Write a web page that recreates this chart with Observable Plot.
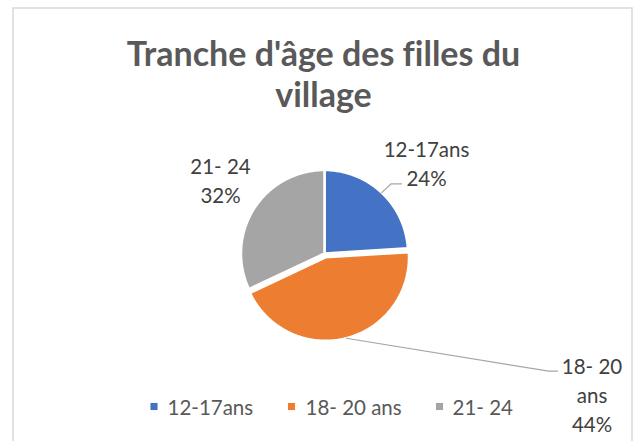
<!DOCTYPE html>
<html>
<head>
<meta charset="utf-8">
<script src="https://cdn.jsdelivr.net/npm/d3@7"></script>
<script src="https://cdn.jsdelivr.net/npm/@observablehq/plot@0.6"></script>
<style>
  html, body { margin: 0; padding: 0; background: #fff; }
  #chart svg { display: block; }
  #chart svg text { font-variant-ligatures: none; font-feature-settings: "liga" 0; }
</style>
</head>
<body>
<div id="chart"></div>
<script>
// ---- Data ----
const categories = ["12-17ans", "18- 20 ans", "21- 24"];
const percentages = [24, 44, 32];
const titleText = "Tranche d'âge des filles du\nvillage";

// ---- Styles / layout (not data) ----
const sliceColors = ["#4472C4", "#ED7D31", "#A5A5A5"];
const W = 641, H = 441;
const cx = 324, cy = 253, R = 83.5;
const explode = [0, 4, 0];
const labelFont = "Lato, 'Open Sans', sans-serif";
// label anchor (center x, last-line baseline) and leader elbow/end per slice
const labelLayout = [
  {x: 426, y: 185, wrap: false, leader: [[390.7, 183.3], [401, 183.3]]},
  {x: 591.5, y: 431.5, wrap: true, leader: [[548.3, 370.7], [557, 370.7]]},
  {x: 220, y: 202, wrap: false, leader: null}
];
const legendLayout = [
  {sx: 153.5, tx: 167},
  {sx: 291, tx: 305},
  {sx: 439, tx: 452}
];
const legendY = 406;

// ---- Geometry from data ----
const arcs = d3.pie().sort(null).value(d => d)(percentages);
const slicePts = [];
const leaderPts = [];
const labels = [];
arcs.forEach((a, i) => {
  const cat = categories[i];
  const mid = (a.startAngle + a.endAngle) / 2;
  const ox = explode[i] * Math.sin(mid), oy = -explode[i] * Math.cos(mid);
  const px = cx + ox, py = cy + oy;
  slicePts.push({cat, x: px, y: py});
  const n = Math.max(8, Math.ceil((a.endAngle - a.startAngle) * 60));
  for (let k = 0; k <= n; k++) {
    const t = a.startAngle + (a.endAngle - a.startAngle) * k / n;
    slicePts.push({cat, x: px + R * Math.sin(t), y: py - R * Math.cos(t)});
  }
  slicePts.push({cat, x: px, y: py});
  const L = labelLayout[i];
  if (L.leader) {
    leaderPts.push({cat, x: px + R * Math.sin(mid), y: py - R * Math.cos(mid)});
    L.leader.forEach(([x, y]) => leaderPts.push({cat, x, y}));
  }
  const name = L.wrap ? cat.replace(/ (?=[^ ]*$)/, "\n") : cat;
  labels.push({cat, x: L.x, y: L.y, text: name + "\n" + percentages[i] + "%"});
});
const legendRows = categories.map((cat, i) => ({cat, sx: legendLayout[i].sx, tx: legendLayout[i].tx, y: legendY}));

const chart = Plot.plot({
  width: W,
  height: H,
  margin: 0,
  x: {domain: [0, W], range: [0, W], axis: null},
  y: {domain: [0, H], range: [0, H], axis: null},
  color: {type: "ordinal", domain: categories, range: sliceColors},
  style: {fontFamily: labelFont, background: "#fff"},
  marks: [
    Plot.frame({stroke: "#d9d9d9", strokeWidth: 1.5, insetLeft: 12.5, insetTop: 7.5, insetRight: 9.5, insetBottom: -20}),
    Plot.line(slicePts, {x: "x", y: "y", z: "cat", fill: "cat", stroke: "white", strokeWidth: 2.5, strokeLinejoin: "round"}),
    Plot.line(leaderPts, {x: "x", y: "y", z: "cat", stroke: "#a6a6a6", strokeWidth: 1.2}),
    Plot.text(labels, {x: "x", y: "y", text: "text", textAnchor: "middle", lineAnchor: "bottom", lineHeight: 1.41, fontSize: 20.5, fill: "#404040", fontFamily: labelFont}),
    Plot.text([titleText], {x: () => 323, y: () => 106, text: d => d, textAnchor: "middle", lineAnchor: "bottom", lineHeight: 1.19, fontSize: 34, fontWeight: "bold", fill: "#595959", fontFamily: labelFont}),
    Plot.dot(legendRows, {x: "sx", y: "y", symbol: "square", r: 4, fill: "cat", stroke: null}),
    Plot.text(legendRows, {x: "tx", y: d => d.y + 8, text: "cat", textAnchor: "start", lineAnchor: "bottom", fontSize: 20.5, fill: "#595959", fontFamily: labelFont})
  ]
});
document.getElementById("chart").appendChild(chart);
</script>
</body>
</html>
